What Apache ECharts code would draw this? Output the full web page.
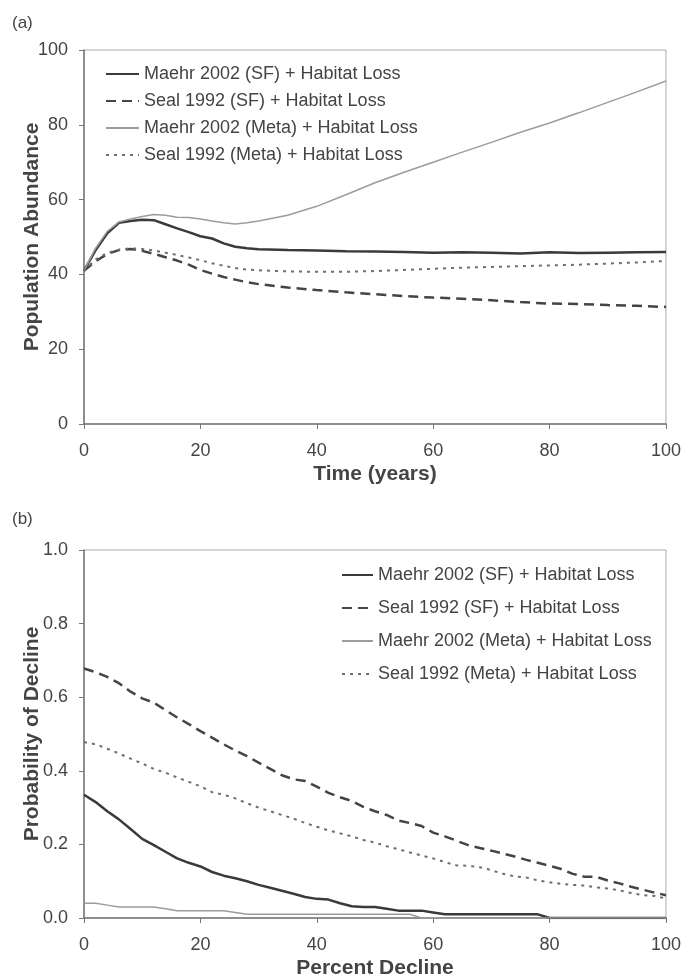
<!DOCTYPE html>
<html>
<head>
<meta charset="utf-8">
<script src="https://cdn.jsdelivr.net/npm/echarts@6/dist/echarts.min.js"></script>
<style>
  html, body { margin: 0; padding: 0; background: #fff; }
  #chart { width: 684px; height: 980px; }
</style>
</head>
<body>
<div id="chart"></div>
<script>
// (a) population abundance over time
const years = [0, 2, 4, 6, 8, 10, 12, 14, 16, 18, 20, 22, 24, 26, 28, 30, 35, 40, 45, 50, 55, 60, 65, 70, 75, 80, 85, 90, 95, 100];
const maehrSF = [41, 46.5, 51, 53.8, 54.3, 54.6, 54.5, 53.4, 52.3, 51.3, 50.2, 49.6, 48.3, 47.4, 47.0, 46.7, 46.5, 46.4, 46.2, 46.1, 46.0, 45.8, 45.9, 45.8, 45.6, 45.9, 45.7, 45.8, 45.9, 46.0];
const sealSF = [41, 43.5, 45.5, 46.5, 46.8, 46.3, 45.5, 44.6, 43.7, 42.6, 41.2, 40.2, 39.3, 38.6, 37.9, 37.4, 36.5, 35.8, 35.2, 34.7, 34.2, 33.8, 33.5, 33.1, 32.6, 32.2, 32.1, 31.8, 31.6, 31.3];
const maehrMeta = [41, 47, 51.5, 54, 54.8, 55.5, 56, 55.8, 55.3, 55.2, 54.8, 54.3, 53.8, 53.5, 53.8, 54.3, 55.8, 58.2, 61.3, 64.5, 67.3, 70, 72.7, 75.3, 78, 80.5, 83.2, 86, 88.8, 91.7];
const sealMeta = [41, 44, 45.8, 46.6, 47, 46.8, 46.4, 45.8, 45.2, 44.5, 43.8, 43.0, 42.3, 41.7, 41.3, 41.1, 40.8, 40.7, 40.7, 40.9, 41.2, 41.5, 41.8, 42.0, 42.2, 42.4, 42.6, 42.9, 43.2, 43.6];

// (b) probability of decline
const pctDecline = [0, 2, 4, 6, 8, 10, 12, 14, 16, 18, 20, 22, 24, 26, 28, 30, 32, 34, 36, 38, 40, 42, 44, 46, 48, 50, 52, 54, 56, 58, 60, 62, 64, 66, 68, 70, 72, 74, 76, 78, 80, 82, 84, 86, 88, 90, 92, 94, 96, 98, 100];
const probMaehrSF = [0.335, 0.315, 0.290, 0.268, 0.242, 0.215, 0.198, 0.180, 0.162, 0.150, 0.140, 0.125, 0.115, 0.108, 0.100, 0.090, 0.082, 0.074, 0.066, 0.057, 0.052, 0.050, 0.040, 0.032, 0.030, 0.030, 0.025, 0.020, 0.020, 0.020, 0.015, 0.010, 0.010, 0.010, 0.010, 0.010, 0.010, 0.010, 0.010, 0.010, 0, 0, 0, 0, 0, 0, 0, 0, 0, 0, 0];
const probSealSF = [0.678, 0.668, 0.655, 0.638, 0.615, 0.597, 0.585, 0.565, 0.545, 0.527, 0.508, 0.490, 0.472, 0.455, 0.440, 0.422, 0.405, 0.388, 0.377, 0.372, 0.357, 0.340, 0.328, 0.318, 0.302, 0.290, 0.280, 0.265, 0.258, 0.250, 0.232, 0.222, 0.210, 0.198, 0.190, 0.183, 0.175, 0.167, 0.158, 0.150, 0.142, 0.133, 0.120, 0.112, 0.112, 0.102, 0.094, 0.085, 0.077, 0.069, 0.062];
const probMaehrMeta = [0.040, 0.040, 0.035, 0.030, 0.030, 0.030, 0.030, 0.025, 0.020, 0.020, 0.020, 0.020, 0.020, 0.015, 0.010, 0.010, 0.010, 0.010, 0.010, 0.010, 0.010, 0.010, 0.010, 0.010, 0.010, 0.010, 0.010, 0.010, 0.010, 0, 0, 0, 0, 0, 0, 0, 0, 0, 0, 0, 0, 0, 0, 0, 0, 0, 0, 0, 0, 0, 0];
const probSealMeta = [0.478, 0.472, 0.460, 0.447, 0.433, 0.420, 0.405, 0.395, 0.382, 0.370, 0.358, 0.342, 0.335, 0.325, 0.312, 0.300, 0.290, 0.280, 0.270, 0.258, 0.248, 0.238, 0.230, 0.222, 0.212, 0.205, 0.195, 0.187, 0.178, 0.170, 0.162, 0.152, 0.143, 0.142, 0.138, 0.130, 0.120, 0.113, 0.110, 0.102, 0.097, 0.093, 0.090, 0.088, 0.083, 0.080, 0.075, 0.068, 0.062, 0.060, 0.053];

const names = [
  'Maehr 2002 (SF) + Habitat Loss',
  'Seal 1992 (SF) + Habitat Loss',
  'Maehr 2002 (Meta) + Habitat Loss',
  'Seal 1992 (Meta) + Habitat Loss'
];

const font = 'Liberation Sans, Arial, sans-serif';
const txt = '#444';

const styles = [
  { color: '#3a3a3a', width: 2.5, type: 'solid' },
  { color: '#444', width: 2.5, type: [10, 6] },
  { color: '#9c9c9c', width: 1.5, type: 'solid' },
  { color: '#6e6e6e', width: 2, type: [3, 5] }
];

function zip(xs, ys) {
  return xs.map((x, i) => [x, ys[i]]);
}

function makeSeries(idx, xs, ys, gridIdx) {
  let s = styles[idx];
  return {
    name: names[idx],
    type: 'line',
    xAxisIndex: gridIdx,
    yAxisIndex: gridIdx,
    data: zip(xs, ys),
    symbol: 'none',
    smooth: false,
    lineStyle: { color: s.color, width: s.width, type: s.type },
    itemStyle: { color: s.color },
    animation: false
  };
}

function xAxisOf(gridIdx, name) {
  return {
    type: 'value', gridIndex: gridIdx, min: 0, max: 100, interval: 20,
    name: name, nameLocation: 'middle', nameGap: 40,
    nameTextStyle: { fontFamily: font, fontSize: 21, fontWeight: 'bold', color: txt },
    axisLine: { show: true, lineStyle: { color: '#777', width: 1.5 } },
    axisTick: { show: true, inside: false, length: 5, lineStyle: { color: '#777' } },
    axisLabel: { fontFamily: font, fontSize: 18, color: txt, margin: 18 },
    splitLine: { show: false }
  };
}

function yAxisOf(gridIdx, name, max, interval, fmt) {
  return {
    type: 'value', gridIndex: gridIdx, min: 0, max: max, interval: interval,
    name: name, nameLocation: 'middle', nameGap: 41, nameMoveOverlap: false,
    nameTextStyle: { fontFamily: font, fontSize: 21, fontWeight: 'bold', color: txt },
    axisLine: { show: true, lineStyle: { color: '#777', width: 1.5 } },
    axisTick: { show: true, inside: false, length: 5, lineStyle: { color: '#777' } },
    axisLabel: { fontFamily: font, fontSize: 18, color: txt, margin: 16, formatter: fmt },
    splitLine: { show: false }
  };
}

function legendOf(left, top, gap, width) {
  return {
    orient: 'vertical', left: left, top: top,
    itemWidth: width, itemHeight: 10, itemGap: gap,
    data: names,
    itemStyle: { opacity: 0 },
    textStyle: { fontFamily: font, fontSize: 18, color: txt, lineHeight: 18 },
    selectedMode: false
  };
}

var chart = echarts.init(document.getElementById('chart'), null, { renderer: 'canvas' });

var option = {
  backgroundColor: '#fff',
  animation: false,
  title: [
    { text: '(a)', left: 7, top: 10, textStyle: { fontFamily: font, fontSize: 17, fontWeight: 'normal', color: txt } },
    { text: '(b)', left: 7, top: 506, textStyle: { fontFamily: font, fontSize: 17, fontWeight: 'normal', color: txt } }
  ],
  grid: [
    { left: 84, right: 18, top: 50, height: 374, show: true, borderColor: '#aaa', borderWidth: 1 },
    { left: 84, right: 18, top: 550, height: 372, show: true, borderColor: '#aaa', borderWidth: 1 }
  ],
  legend: [
    legendOf(100, 60, 9, 33),
    legendOf(336, 561, 15, 31)
  ],
  xAxis: [
    xAxisOf(0, 'Time (years)'),
    xAxisOf(1, 'Percent Decline')
  ],
  yAxis: [
    yAxisOf(0, 'Population Abundance', 100, 20, v => String(v)),
    yAxisOf(1, 'Probability of Decline', 1, 0.2, v => v.toFixed(1))
  ],
  series: [
    makeSeries(0, years, maehrSF, 0),
    makeSeries(1, years, sealSF, 0),
    makeSeries(2, years, maehrMeta, 0),
    makeSeries(3, years, sealMeta, 0),
    makeSeries(0, pctDecline, probMaehrSF, 1),
    makeSeries(1, pctDecline, probSealSF, 1),
    makeSeries(2, pctDecline, probMaehrMeta, 1),
    makeSeries(3, pctDecline, probSealMeta, 1)
  ]
};

chart.setOption(option);
</script>
</body>
</html>
